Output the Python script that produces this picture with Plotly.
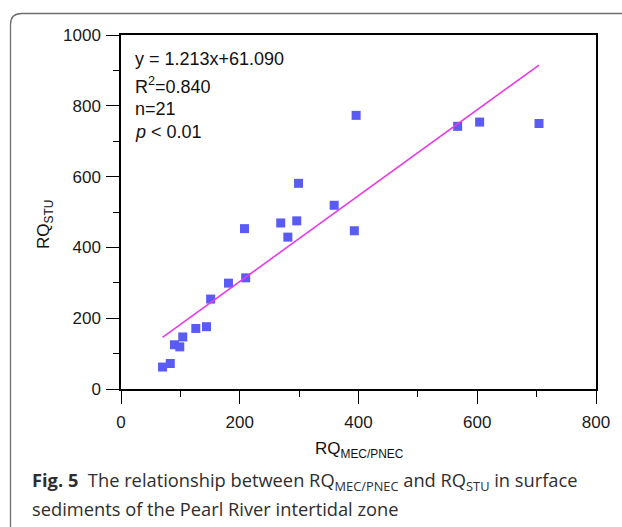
import plotly.graph_objects as go

# ---- data ----
rq_mec_pnec = [70, 83, 90, 99, 104, 126, 144, 151, 181, 210, 208, 269, 281, 296, 299,
               359, 393, 396, 567, 604, 704]
rq_stu = [62, 72, 125, 119, 147, 171, 176, 254, 299, 314, 453, 469, 429, 475, 581,
          519, 447, 773, 742, 754, 750]
slope = 1.213
intercept = 61.090
x_ticks = [0, 200, 400, 600, 800]
y_ticks = [0, 200, 400, 600, 800, 1000]

# ---- layout geometry (pixels) ----
W, H = 622, 527
L, R, T, B = 121, 26, 35, 138
PW, PH = W - L - R, H - T - B


def px(x):
    return (x - L) / PW


def py(y):
    return (H - B - y) / PH


fit_x = [min(rq_mec_pnec), max(rq_mec_pnec)]
fit_y = [slope * v + intercept for v in fit_x]

fig = go.Figure()
fig.add_trace(go.Scatter(
    x=rq_mec_pnec, y=rq_stu, mode="markers",
    marker=dict(symbol="square", size=9, color="#5a5af4", line=dict(width=0)),
    showlegend=False, hoverinfo="skip"))
fig.add_trace(go.Scatter(
    x=fit_x, y=fit_y, mode="lines",
    line=dict(color="#e83be8", width=1.6),
    showlegend=False, hoverinfo="skip"))

axis_common = dict(
    showline=True, mirror=True, linecolor="black", linewidth=1.5,
    ticks="outside", ticklen=13, tickwidth=1.4, tickcolor="black",
    showgrid=False, zeroline=False,
    tickfont=dict(family="Liberation Sans, Arial", size=17, color="#1a1a1a"),
    minor=dict(ticks="outside", ticklen=6, tickwidth=1.4, tickcolor="black", dtick=100),
)

fig.update_xaxes(range=[0, 800], tickvals=x_ticks, ticklabelstandoff=4, **axis_common)
fig.update_yaxes(range=[0, 1000], tickvals=y_ticks, ticklabelstandoff=2, **axis_common)

ann_font = dict(family="Liberation Sans, Arial", size=18, color="#111")
stats_lines = ["y = 1.213x+61.090", "R<sup>2</sup>=0.840", "n=21", "<i>p</i> &lt; 0.01"]
stats_y = [59, 85, 109, 132]
annotations = []
for txt, yy in zip(stats_lines, stats_y):
    annotations.append(dict(text=txt, x=px(133), y=py(yy), xref="paper", yref="paper",
                            xanchor="left", yanchor="middle", showarrow=False, font=ann_font))

title_font = dict(family="Liberation Sans, Arial", size=17, color="#111")
annotations.append(dict(text="RQ<sub>MEC/PNEC</sub>", x=px(359), y=py(450), xref="paper",
                        yref="paper", xanchor="center", yanchor="middle", showarrow=False,
                        font=title_font))
annotations.append(dict(text="RQ<sub>STU</sub>", x=px(45), y=py(225), xref="paper",
                        yref="paper", xanchor="center", yanchor="middle", showarrow=False,
                        textangle=-90, font=title_font))

cap_font = dict(family="Open Sans, Noto Sans", size=18.3, color="#2e2e2e")
annotations.append(dict(
    text="<b>Fig. 5</b>\u00a0\u00a0The relationship between RQ<sub>MEC/PNEC</sub> and RQ<sub>STU</sub> in surface",
    x=px(30), y=py(481), xref="paper", yref="paper", xanchor="left", yanchor="middle",
    showarrow=False, font=cap_font))
annotations.append(dict(
    text="sediments of the Pearl River intertidal zone",
    x=px(30), y=py(508), xref="paper", yref="paper", xanchor="left", yanchor="middle",
    showarrow=False, font=cap_font))

# rounded frame around the figure (top-left corner visible)
xl, yt = px(10.5), py(13.5)
rx, ry = 11 / PW, 11 / PH
xr_far, yb_far = px(W + 20), py(H + 20)
frame_path = (f"M {xl},{yb_far} L {xl},{yt - ry} Q {xl},{yt} {xl + rx},{yt} "
              f"L {xr_far},{yt}")

fig.update_layout(
    width=W, height=H,
    margin=dict(l=L, r=R, t=T, b=B),
    paper_bgcolor="white", plot_bgcolor="white",
    annotations=annotations,
    shapes=[dict(type="path", path=frame_path, xref="paper", yref="paper",
                 line=dict(color="#6e6e6e", width=1.3))],
)

fig.write_html("out.html", config={"displayModeBar": False},
               post_script="document.body.style.margin='0';document.body.style.padding='0';")
